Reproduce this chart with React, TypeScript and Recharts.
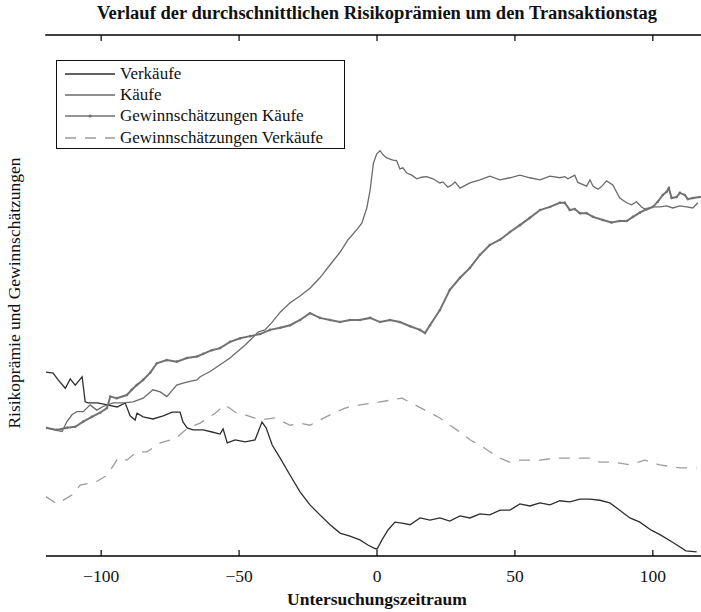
import React from "react";
import { LineChart, Line, XAxis, YAxis, Legend } from "recharts";

// x = Tag relativ zur Transaktion, v = Niveau (ohne Skala im Original)
const verkaeufe: [number, number][] = [
  [-120, 35.3], [-117.4, 35.1], [-115.6, 33.8], [-113, 32.2], [-111.2, 34.0], [-109.4, 32.8],
  [-106.9, 34.4], [-105.8, 29.6], [-104.7, 29.4], [-101.4, 29.4], [-97.8, 29.0], [-94.2, 28.6],
  [-91.3, 29.4], [-89.5, 26.9], [-87.7, 26.1], [-87, 27.4], [-84.8, 26.7], [-81.2, 26.3],
  [-77.5, 26.9], [-74.3, 27.6], [-71.4, 27.6], [-70.3, 25.7], [-68.8, 24.6], [-66.7, 24.2],
  [-63, 24.2], [-59.8, 23.8], [-56.9, 23.4], [-55.8, 24.4], [-54.3, 21.7], [-51.4, 22.3],
  [-47.8, 21.9], [-44.2, 22.3], [-41.7, 25.7], [-40.2, 24.6], [-38, 21.3], [-35.1, 18.8],
  [-31.5, 15.5], [-27.9, 12.3], [-24.3, 9.8], [-20.7, 7.9], [-17, 6.0], [-13.4, 4.4],
  [-9.8, 3.8], [-6.2, 3.1], [-3.3, 2.1], [-1.1, 1.5], [0, 1.3], [1.8, 3.1], [4, 5.0],
  [6.5, 6.5], [9.1, 6.3], [12, 6.0], [15.6, 7.3], [19.2, 6.9], [22.8, 7.3], [26.4, 6.7],
  [30.1, 7.7], [33.7, 7.3], [37.3, 8.1], [40.9, 7.9], [44.6, 8.8], [48.2, 8.8], [51.8, 10.0],
  [55.4, 9.6], [59.1, 10.2], [62.7, 9.8], [66.3, 10.6], [69.9, 10.4], [73.6, 10.9],
  [77.2, 10.9], [80.8, 10.7], [84.4, 10.2], [88, 8.8], [91.7, 7.3], [95.3, 6.5], [99.3, 5.0],
  [102.9, 4.0], [107.6, 2.5], [112, 1.0], [115.9, 0.8],
];

const kaeufe: [number, number][] = [
  [-120, 24.6], [-114.2, 23.9], [-112.4, 25.8], [-110.6, 27.1], [-108.8, 27.7], [-106.5, 27.7],
  [-104, 29.0], [-101.6, 28.0], [-99.3, 28.7], [-95.7, 29.4], [-92, 29.4], [-88.4, 29.6],
  [-84.8, 30.3], [-81.2, 31.9], [-78.6, 31.5], [-76.2, 30.6], [-72.6, 32.8], [-70.3, 33.2],
  [-67.8, 33.5], [-65.3, 33.8], [-64.1, 34.4], [-60.5, 35.4], [-56.9, 36.7], [-53.3, 38.0],
  [-47.8, 40.5], [-45.3, 41.8], [-43.1, 43.0], [-40.6, 43.4], [-38, 44.9], [-35.1, 46.8],
  [-31.5, 48.6], [-27.9, 49.9], [-24.3, 51.4], [-20.7, 53.4], [-17, 55.9], [-13.4, 58.3],
  [-10.5, 60.7], [-7.4, 62.6], [-5.5, 63.9], [-3.7, 66.8], [-2.5, 70.2], [-1.3, 75.4],
  [-0.1, 77.2], [1.1, 77.8], [2.2, 77.0], [3.5, 76.4], [5.8, 76.0], [7.1, 75.9], [8.3, 74.3],
  [9.4, 74.5], [10.8, 73.5], [12.6, 73.1], [14.4, 72.4], [16.2, 72.7], [18, 72.8], [20.3, 72.4],
  [22.8, 71.6], [23.9, 71.8], [25.7, 70.8], [27.1, 71.2], [28.3, 71.8], [30.1, 70.6],
  [33.7, 71.6], [37.3, 72.2], [40.9, 72.9], [44.6, 72.2], [48.2, 72.6], [51.8, 73.1],
  [55.4, 72.6], [59.1, 72.2], [62.7, 72.9], [66.3, 72.6], [68.1, 72.8], [69.2, 72.4],
  [71.7, 73.1], [72.8, 71.7], [76, 71.0], [77.2, 72.2], [78.3, 71.0], [80.1, 70.4],
  [81.4, 70.9], [83.2, 72.0], [85.5, 71.2], [88, 68.7], [90.5, 67.8], [92.3, 67.4],
  [94.1, 68.0], [95.9, 67.0], [97.7, 66.4], [100, 67.0], [102.5, 67.0], [105, 67.2],
  [107.2, 66.8], [109.8, 67.2], [112.2, 67.0], [114.5, 66.8], [116.3, 67.8],
];

const gewinnKaeufe: [number, number][] = [
  [-120, 24.6], [-116.1, 24.2], [-112.4, 24.6], [-109.4, 24.8], [-106.5, 25.8], [-103.4, 26.7],
  [-100.4, 27.5], [-97.9, 28.4], [-96.7, 30.6], [-94.3, 30.3], [-90.7, 30.9], [-88.9, 31.9],
  [-87.1, 32.8], [-84.8, 33.8], [-82.2, 35.2], [-79.8, 37.0], [-76.2, 37.6], [-72.6, 37.3],
  [-68.9, 38.0], [-65.3, 38.3], [-63, 38.8], [-59.9, 39.5], [-56.9, 39.9], [-53.3, 41.1],
  [-49.6, 41.8], [-46, 42.2], [-42.4, 42.6], [-38.8, 43.4], [-35.1, 43.8], [-31.5, 44.3],
  [-27.9, 45.3], [-24.3, 46.6], [-20.7, 45.7], [-17, 45.3], [-13.4, 44.9], [-9.8, 45.3],
  [-6.2, 45.3], [-2.5, 45.7], [1.1, 44.9], [4.7, 45.3], [8.3, 44.9], [12, 44.1], [15.6, 43.4],
  [17.4, 42.8], [19.2, 44.3], [22.8, 47.2], [26.4, 51.1], [30.1, 53.4], [33.7, 55.3],
  [37.3, 57.8], [40.9, 59.7], [44.6, 60.7], [48.2, 62.2], [51.8, 63.5], [55.4, 64.9],
  [59.1, 66.4], [62.7, 67.0], [66.3, 67.8], [68.1, 67.8], [69.9, 66.4], [71.7, 66.6],
  [73.6, 65.8], [76, 65.8], [78.3, 65.1], [81.9, 64.5], [85, 64.0], [88, 64.3], [90.5, 64.3],
  [92.8, 65.1], [95.3, 65.9], [97.7, 66.6], [100, 67.0], [101.8, 68.0], [103.6, 69.3],
  [105, 69.9], [105.8, 70.6], [106.8, 68.7], [108.6, 68.9], [109.8, 69.7], [111.6, 69.3],
  [112.7, 68.5], [114.5, 68.7], [117, 68.9],
];

const gewinnVerkaeufe: [number, number][] = [
  [-120, 11.4], [-116.1, 10.0], [-110.6, 11.7], [-107.6, 13.6], [-101.6, 14.3], [-97.9, 15.5],
  [-93.8, 18.8], [-90.7, 18.4], [-87.1, 20.0], [-83.4, 20.0], [-78.6, 21.7], [-73.2, 22.5],
  [-68.5, 24.6], [-64.1, 25.5], [-58.7, 27.4], [-55.1, 29.0], [-51.4, 27.6], [-47.8, 27.1],
  [-42.4, 26.1], [-37, 26.5], [-31.5, 25.1], [-27.9, 25.5], [-24.3, 25.1], [-20.7, 26.1],
  [-17, 27.1], [-11.6, 28.4], [-6.2, 29.0], [-0.7, 29.4], [4.7, 29.9], [9.1, 30.3],
  [13.8, 29.0], [17.4, 28.0], [22.8, 26.5], [26.4, 25.1], [30.1, 23.8], [33.7, 22.3],
  [37.3, 21.3], [40.9, 20.0], [44.6, 18.8], [48.2, 18.0], [51.8, 18.4], [59.1, 18.4],
  [64.5, 18.8], [69.9, 18.8], [77.2, 18.8], [80.8, 18.0], [86.2, 18.0], [91.7, 17.5],
  [97.1, 18.4], [102.5, 17.5], [109.8, 16.9], [115.9, 16.9],
];

const xTicks = [-100, -50, 0, 50, 100];
const X_DOMAIN: [number, number] = [-120, 120];
const Y_DOMAIN: [number, number] = [0, 100];

const toRows = (pts: [number, number][]) => pts.map(([t, v]) => ({ t, v }));

const series = [
  { key: "verk", name: "Verkäufe", data: toRows(verkaeufe), color: "#2e2e2e", width: 1.3, dash: undefined, dot: false },
  { key: "kauf", name: "Käufe", data: toRows(kaeufe), color: "#6b6b6b", width: 1.3, dash: undefined, dot: false },
  { key: "gk", name: "Gewinnschätzungen Käufe", data: toRows(gewinnKaeufe), color: "#727272", width: 2, dash: undefined, dot: true },
  { key: "gv", name: "Gewinnschätzungen Verkäufe", data: toRows(gewinnVerkaeufe), color: "#9c9c9c", width: 1.3, dash: "11 9", dot: false },
];

const W = 730;
const H = 612;
const PLOT_LEFT = 46;
const PLOT_TOP = 35;
const PLOT_BOTTOM = 556;
const PLOT_RIGHT = 708;
const AXIS_H = 30;
const FONT = '"Liberation Serif", "Times New Roman", serif';

const fmt = (v: number) => (v < 0 ? `\u2212${Math.abs(v)}` : `${v}`);
// x position on the (linear) frame, used only for the inward ticks on the top edge
const frameX = (t: number) =>
  PLOT_LEFT + ((t - X_DOMAIN[0]) / (X_DOMAIN[1] - X_DOMAIN[0])) * (PLOT_RIGHT - PLOT_LEFT);

function BottomTick(props: any) {
  const { x, payload } = props;
  return (
    <g>
      <line x1={x} x2={x} y1={PLOT_BOTTOM} y2={PLOT_BOTTOM - 6} stroke="#000" strokeWidth={1.2} />
      <text x={x} y={PLOT_BOTTOM + 26} textAnchor="middle" fontSize={17.5} fontFamily={FONT} fill="#111">
        {fmt(payload.value)}
      </text>
    </g>
  );
}

function LegendBox() {
  return (
    <div
      style={{
        position: "absolute",
        left: 56,
        top: 60,
        width: 289,
        height: 89,
        border: "1.5px solid #111",
        background: "#fff",
        boxSizing: "border-box",
        fontFamily: FONT,
        fontSize: 17,
        color: "#111",
        paddingTop: 2,
      }}
    >
      {series.map((s) => (
        <div key={s.key} style={{ display: "flex", alignItems: "center", height: 21.3 }}>
          <svg width={52} height={10} style={{ marginLeft: 8, marginRight: 3, flex: "none" }}>
            <line x1={0} x2={50} y1={5} y2={5} stroke={s.color} strokeWidth={s.dot ? 1.5 : 1.3} strokeDasharray={s.dash} />
            {s.dot && <circle cx={25} cy={5} r={1.6} fill={s.color} />}
          </svg>
          <span style={{ lineHeight: "20px", whiteSpace: "nowrap" }}>{s.name}</span>
        </div>
      ))}
    </div>
  );
}

export default function App() {
  return (
    <div style={{ position: "absolute", left: 0, top: 0, width: 701, height: 612, overflow: "hidden", background: "#fff" }}>
      <LineChart
        width={W}
        height={H}
        margin={{ top: PLOT_TOP, left: PLOT_LEFT, right: W - PLOT_RIGHT, bottom: H - PLOT_BOTTOM - AXIS_H }}
      >
        <XAxis
          dataKey="t"
          type="number"
          domain={X_DOMAIN}
          ticks={xTicks}
          allowDataOverflow
          height={AXIS_H}
          axisLine={{ stroke: "#000", strokeWidth: 1.5 }}
          tickLine={false}
          tick={<BottomTick />}
        />
        <YAxis
          type="number"
          domain={Y_DOMAIN}
          width={0}
          tick={false}
          tickLine={false}
          axisLine={{ stroke: "#000", strokeWidth: 1.5 }}
          allowDataOverflow
        />
        <Legend
          content={() => <LegendBox />}
          wrapperStyle={{ position: "absolute", left: 0, top: 0, width: 0, height: 0, overflow: "visible" }}
        />
        {series.map((s) => (
          <Line
            key={s.key}
            data={s.data}
            dataKey="v"
            name={s.name}
            type="linear"
            stroke={s.color}
            strokeWidth={s.width}
            strokeDasharray={s.dash}
            dot={s.dot ? { r: 1.3, fill: s.color, stroke: "none" } : false}
            isAnimationActive={false}
          />
        ))}
      </LineChart>
      {/* top edge of the axes box with its inward ticks */}
      <svg
        width={W}
        height={PLOT_TOP + 10}
        style={{ position: "absolute", left: 0, top: 0, zIndex: 2, pointerEvents: "none" }}
      >
        <line x1={PLOT_LEFT - 0.75} x2={PLOT_RIGHT} y1={PLOT_TOP} y2={PLOT_TOP} stroke="#000" strokeWidth={1.5} />
        {xTicks.map((t) => (
          <line key={t} x1={frameX(t)} x2={frameX(t)} y1={PLOT_TOP} y2={PLOT_TOP + 6} stroke="#000" strokeWidth={1.2} />
        ))}
      </svg>
      <div
        style={{
          position: "absolute", left: 0, top: 3, width: 754, textAlign: "center", zIndex: 3,
          fontFamily: FONT, fontWeight: "bold", fontSize: 18.5, lineHeight: "20px", color: "#111",
        }}
      >
        Verlauf der durchschnittlichen Risikoprämien um den Transaktionstag
      </div>
      <div
        style={{
          position: "absolute", left: 0, top: 589, width: 754, textAlign: "center",
          fontFamily: FONT, fontWeight: "bold", fontSize: 17.5, lineHeight: "20px", color: "#111",
        }}
      >
        Untersuchungszeitraum
      </div>
      <div
        style={{
          position: "absolute", left: 14 - 200, top: 293 - 10, width: 400, height: 20,
          transform: "rotate(-90deg)", textAlign: "center",
          fontFamily: FONT, fontSize: 17.5, lineHeight: "20px", color: "#111",
        }}
      >
        Risikoprämie und Gewinnschätzungen
      </div>
    </div>
  );
}
